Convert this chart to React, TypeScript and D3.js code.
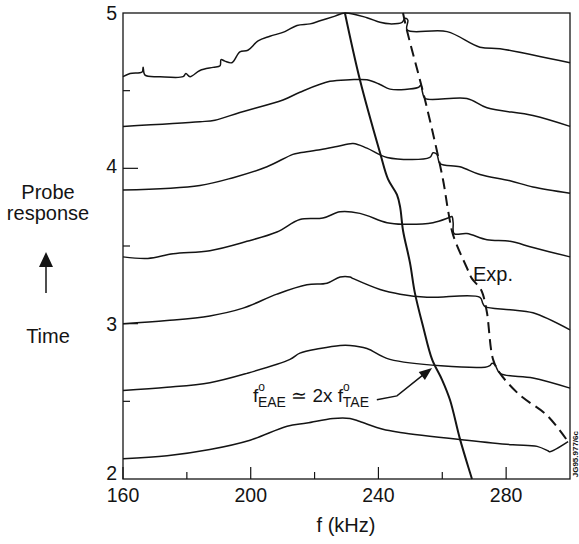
import React from "react";
import * as d3 from "d3";

type P = [number, number];

// Probe response traces (kHz, time-axis offset), top to bottom
const trace1: P[] = [[160,4.59],[162.2,4.61],[166,4.62],[166.3,4.65],[166.9,4.60],[171.6,4.59],[178.8,4.59],[179.7,4.61],[181,4.59],[184.1,4.63],[188.2,4.65],[190.4,4.66],[190.7,4.70],[191.9,4.69],[194.1,4.68],[196.6,4.75],[199.1,4.76],[202.3,4.82],[206,4.85],[210.7,4.88],[214.5,4.92],[218.6,4.93],[221.7,4.95],[226.4,4.98],[229.5,5.0],[236.4,4.97],[240.5,4.94],[243.6,4.93],[247.4,4.94],[248.3,4.965],[249.2,4.955],[249.0,4.89],[261.5,4.88],[271.8,4.78],[278.1,4.77],[288.4,4.73],[300,4.68]];
const trace2: P[] = [[160,4.27],[184.1,4.30],[188.8,4.31],[196.6,4.36],[210.1,4.44],[215.4,4.49],[224.8,4.56],[231.1,4.57],[236.4,4.57],[240.5,4.54],[243.6,4.51],[252.4,4.52],[253.3,4.535],[253.8,4.49],[254.6,4.45],[267.7,4.45],[274,4.39],[288.4,4.34],[300,4.27]];
const trace3: P[] = [[160,3.86],[184.1,3.89],[194.5,3.94],[205.1,4.01],[213.2,4.09],[215.4,4.10],[221.7,4.12],[227.0,4.14],[232.1,4.16],[236.4,4.13],[242.7,4.07],[256.1,4.07],[257.1,4.10],[258.3,4.09],[259.3,4.03],[265.5,4.01],[271.8,3.96],[281.2,3.92],[288.4,3.88],[300,3.84]];
const trace4: P[] = [[160,3.43],[167.8,3.42],[175.7,3.45],[187.2,3.47],[198.8,3.53],[208.2,3.59],[215.4,3.67],[222.6,3.68],[228,3.72],[234.2,3.71],[242.7,3.65],[247.7,3.64],[257.1,3.65],[261.8,3.68],[263,3.69],[263.4,3.65],[263.7,3.58],[267.7,3.58],[274,3.54],[281.2,3.53],[288.4,3.49],[300,3.43]];
const trace5: P[] = [[160,3.00],[173.8,3.02],[187.2,3.05],[197.6,3.10],[208.2,3.19],[217.6,3.25],[223.9,3.26],[228,3.30],[231.1,3.30],[232.1,3.29],[240.5,3.22],[246.8,3.19],[255.2,3.17],[271.8,3.17],[272.7,3.13],[273.4,3.11],[281.2,3.09],[288.4,3.07],[300,2.96]];
const trace6: P[] = [[160,2.57],[173.8,2.59],[187.2,2.62],[198.8,2.68],[212.3,2.77],[215.4,2.81],[221.7,2.84],[228,2.86],[231.1,2.86],[236.4,2.84],[243.6,2.77],[273.4,2.72],[274.9,2.73],[275.6,2.745],[276.5,2.735],[278.1,2.68],[288.4,2.65],[300,2.585]];
const trace7: P[] = [[160,2.13],[173.8,2.15],[187.2,2.19],[199.8,2.25],[211.4,2.34],[217.6,2.36],[225.8,2.39],[231.1,2.39],[234.2,2.37],[241.4,2.32],[246.8,2.30],[267.7,2.25],[282.1,2.22],[289.7,2.21],[293.2,2.18],[293.7,2.175],[299.4,2.24]];
const traces: P[][] = [trace1, trace2, trace3, trace4, trace5, trace6, trace7];

// Theory line f_EAE ≈ 2x f_TAE and experimental (dashed) line
const eaeLine: P[] = [[229.5,5.0],[234.2,4.57],[240.5,4.10],[243.0,3.93],[245.8,3.83],[246.8,3.75],[247.7,3.60],[249.9,3.39],[251.4,3.20],[254.0,2.98],[256.8,2.77],[259.9,2.64],[262.4,2.51],[265.5,2.26],[268.7,2.04],[269.3,2.0]];
const expLine: P[] = [[247.7,5.0],[248.9,4.89],[254.6,4.44],[260.2,3.93],[261.8,3.73],[263.4,3.57],[267.7,3.36],[269.3,3.29],[271.8,3.23],[272.7,3.19],[274.0,3.07],[275.9,2.77],[278.1,2.68],[284.3,2.54],[292.8,2.41],[299.4,2.24]];
const arrowPath: P[] = [[239.5,2.51],[245.8,2.535],[254.0,2.67]];
const arrowTip: P = [256.8,2.715];

const xMajor = [160, 200, 240, 280];
const xMinor = [180, 220, 260];
const yMajor = [2, 3, 4, 5];
const yMinor = [2.5, 3.5, 4.5];

export default function App() {
  const W = 579, H = 544;
  const x = d3.scaleLinear().domain([160, 300]).range([123, 570]);
  const y = d3.scaleLinear().domain([2, 5]).range([479, 13]);
  const line = d3.line<P>().x(d => x(d[0])).y(d => y(d[1]));
  const smooth = d3.line<P>().x(d => x(d[0])).y(d => y(d[1])).curve(d3.curveCatmullRom.alpha(0.5));
  const font = "'Liberation Sans', Arial, Helvetica, sans-serif";
  const ink = "#141414";

  const a0 = arrowPath[arrowPath.length - 1];
  const ax = x(arrowTip[0]), ay = y(arrowTip[1]);
  const ang = Math.atan2(ay - y(a0[1]), ax - x(a0[0]));
  const hl = 13, hw = 5;
  const bx = ax - hl * Math.cos(ang), by = ay - hl * Math.sin(ang);
  const head = `M${ax},${ay}L${bx + hw * Math.sin(ang)},${by - hw * Math.cos(ang)}L${bx - hw * Math.sin(ang)},${by + hw * Math.cos(ang)}Z`;

  const lx = x(200.7), ly = y(2.496);
  const yLabelDy = (v: number) => (v === 2 ? 1 : v === 4 ? 5 : 7);

  return (
    <svg width={W} height={H} style={{ position: "absolute", left: 0, top: 0, background: "#fff" }} fontFamily={font}>
      <rect x={0} y={0} width={W} height={H} fill="#fff" />
      {/* frame */}
      <rect x={x(160)} y={y(5)} width={x(300) - x(160)} height={y(2) - y(5)} fill="none" stroke={ink} strokeWidth={1.3} />
      {/* ticks */}
      {xMajor.map(v => <line key={"xm" + v} x1={x(v)} x2={x(v)} y1={y(2)} y2={y(2) - 12} stroke={ink} strokeWidth={1.2} />)}
      {xMinor.map(v => <line key={"xn" + v} x1={x(v)} x2={x(v)} y1={y(2)} y2={y(2) - 7} stroke={ink} strokeWidth={1.2} />)}
      {yMajor.slice(1, 3).map(v => <line key={"ym" + v} x1={x(160)} x2={x(160) + 15} y1={y(v)} y2={y(v)} stroke={ink} strokeWidth={1.2} />)}
      {yMinor.map(v => <line key={"yn" + v} x1={x(160)} x2={x(160) + 7} y1={y(v)} y2={y(v)} stroke={ink} strokeWidth={1.2} />)}
      {/* tick labels */}
      {xMajor.map(v => <text key={"xl" + v} x={x(v)} y={502} textAnchor="middle" fontSize={19.5} fill={ink}>{v}</text>)}
      {yMajor.map(v => <text key={"yl" + v} x={x(160) - 6} y={y(v) + yLabelDy(v)} textAnchor="end" fontSize={19.5} fill={ink}>{v}</text>)}
      <text x={346} y={532} textAnchor="middle" fontSize={20} fill={ink}>f (kHz)</text>
      {/* left labels */}
      <text x={48} y={199} textAnchor="middle" fontSize={20} fill={ink}>Probe</text>
      <text x={48} y={220} textAnchor="middle" fontSize={20} fill={ink}>response</text>
      <line x1={46} x2={46} y1={293} y2={262} stroke={ink} strokeWidth={1.5} />
      <path d="M46,252L39,267L53,267Z" fill={ink} />
      <text x={48} y={343} textAnchor="middle" fontSize={20} fill={ink}>Time</text>
      {/* traces */}
      {traces.map((t, i) => <path key={"t" + i} d={smooth(t) || ""} fill="none" stroke={ink} strokeWidth={1.5} strokeLinejoin="round" />)}
      <path d={smooth(eaeLine) || ""} fill="none" stroke={ink} strokeWidth={2} strokeLinejoin="round" />
      <path d={smooth(expLine) || ""} fill="none" stroke={ink} strokeWidth={2} strokeDasharray="11,6" />
      {/* annotation */}
      <path d={line(arrowPath) || ""} fill="none" stroke={ink} strokeWidth={1.5} />
      <path d={head} fill={ink} />
      <text x={lx} y={ly} fontSize={19} fill={ink}>
        f<tspan fontSize={12} dy={-11}>o</tspan><tspan fontSize={14} dx={-7} dy={16}>EAE</tspan><tspan fontSize={19} dy={-5}> ≃ 2x f</tspan><tspan fontSize={12} dy={-11}>o</tspan><tspan fontSize={14} dx={-7} dy={16}>TAE</tspan>
      </text>
      <text x={473} y={281} fontSize={20} fill={ink}>Exp.</text>
      <text transform="translate(578,431) rotate(-90)" textAnchor="end" fontSize={8} fontWeight="bold" fill={ink}>JG95.977/6c</text>
    </svg>
  );
}
